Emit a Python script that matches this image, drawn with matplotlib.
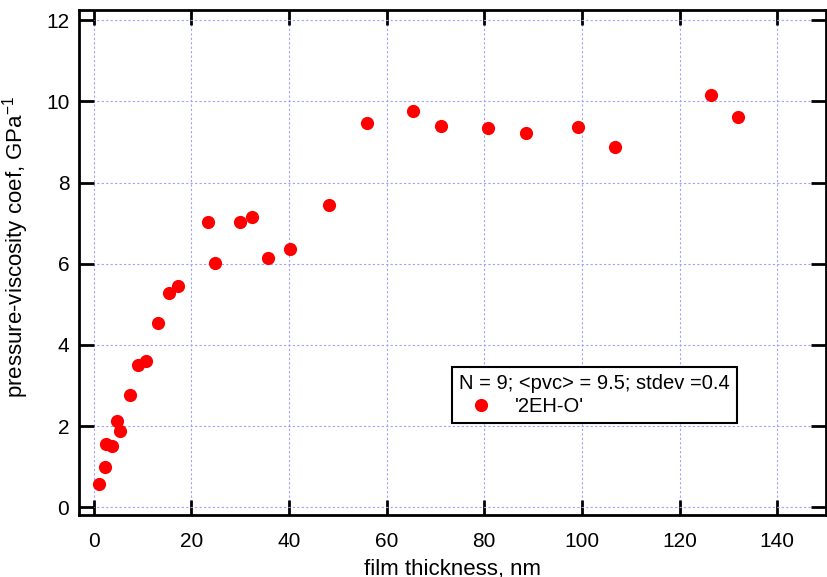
import matplotlib
matplotlib.use("Agg")
import matplotlib.pyplot as plt

plt.rcParams['font.family'] = ['Liberation Sans', 'DejaVu Sans']
plt.rcParams['mathtext.fontset'] = 'custom'
plt.rcParams['mathtext.rm'] = 'Liberation Sans'
plt.rcParams['mathtext.default'] = 'regular'

# film thickness (nm) and pressure-viscosity coefficient (1/GPa)
thickness = [1.2, 2.4, 2.5, 3.8, 4.8, 5.3, 7.4, 9.15, 10.65, 13.25, 15.35, 17.2,
             23.4, 24.8, 29.9, 32.5, 35.7, 40.3, 48.2,
             56.0, 65.5, 71.2, 80.7, 88.6, 99.3, 106.7, 126.4, 132.0]
pvc = [0.57, 0.99, 1.55, 1.51, 2.12, 1.89, 2.77, 3.51, 3.60, 4.54, 5.29, 5.46,
       7.02, 6.01, 7.02, 7.16, 6.15, 6.36, 7.44,
       9.47, 9.76, 9.39, 9.35, 9.22, 9.37, 8.87, 10.15, 9.61]

x_ticks = [0, 20, 40, 60, 80, 100, 120, 140]
y_ticks = [0, 2, 4, 6, 8, 10, 12]

fig = plt.figure(figsize=(8.27, 5.77), dpi=100)
ax = fig.add_axes([0.0955, 0.1075, 0.9033, 0.8752])

ax.plot(thickness, pvc, 'o', color='#ff0000', markersize=9.5, markeredgewidth=0,
        label="'2EH-O'", zorder=3)

ax.set_xlim(-3, 150)
ax.set_ylim(-0.19, 12.25)
ax.set_xticks(x_ticks)
ax.set_yticks(y_ticks)
ax.grid(True, color='#a0a0ff', linestyle=(0, (2, 2)), linewidth=0.8)
ax.set_axisbelow(True)

for s in ax.spines.values():
    s.set_linewidth(2)
ax.tick_params(direction='in', length=11, width=2, top=True, right=True,
               labelsize=15)
ax.tick_params(axis='x', pad=12)
ax.tick_params(axis='y', pad=7)

ax.set_xlabel('film thickness, nm', fontsize=16, labelpad=6)
ax.set_ylabel('pressure-viscosity coef, GPa$^{-1}$', fontsize=16)
ax.yaxis.set_label_coords(-0.064, 0.53)

leg = ax.legend(title='N = 9; <pvc> = 9.5; stdev =0.4', loc='upper left',
                bbox_to_anchor=(0.499, 0.294), fontsize=14.5, title_fontsize=14.5,
                frameon=True, fancybox=False, edgecolor='black', framealpha=1,
                borderpad=0.35, handletextpad=0.6, handlelength=2.2,
                labelspacing=0.2, borderaxespad=0)
leg.get_frame().set_linewidth(1.5)
leg._legend_box.align = 'left'

fig.savefig('out.png', dpi=100)
